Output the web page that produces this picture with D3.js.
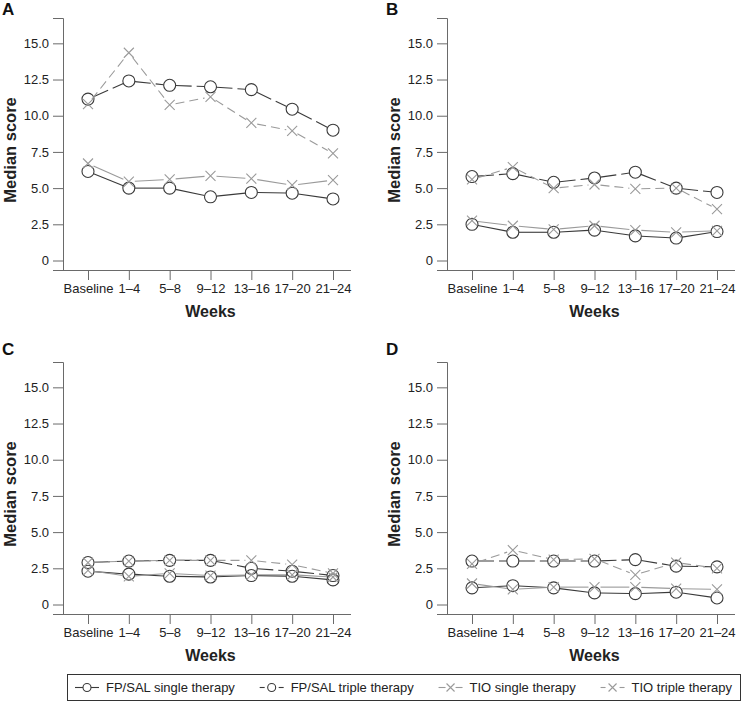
<!DOCTYPE html>
<html>
<head>
<meta charset="utf-8">
<script src="https://cdn.jsdelivr.net/npm/d3@7"></script>
<style>
  body { margin: 0; background: #fff; }
  svg { display: block; font-family: "Liberation Sans", Arial, sans-serif; }
</style>
</head>
<body>
<svg id="chart" width="745" height="702"></svg>
<script>
// ---------- DATA ----------
const weeks = ["Baseline", "1\u20134", "5\u20138", "9\u201312", "13\u201316", "17\u201320", "21\u201324"];
const yTickValues = [0, 2.5, 5, 7.5, 10, 12.5, 15];
const yTickLabels = ["0", "2.5", "5.0", "7.5", "10.0", "12.5", "15.0"];
const panelLabels = ["A", "B", "C", "D"];
const seriesNames = ["FP/SAL single therapy", "FP/SAL triple therapy", "TIO single therapy", "TIO triple therapy"];

// Panel A
const a_fpSingle  = [6.15, 5.0, 5.0, 4.4, 4.7, 4.65, 4.25];
const a_fpTriple  = [11.15, 12.4, 12.1, 12.0, 11.8, 10.45, 9.0];
const a_tioSingle = [6.7, 5.45, 5.6, 5.85, 5.65, 5.2, 5.55];
const a_tioTriple = [10.8, 14.35, 10.75, 11.3, 9.5, 8.95, 7.4];
// Panel B
const b_fpSingle  = [2.5, 1.95, 1.95, 2.1, 1.7, 1.55, 2.0];
const b_fpTriple  = [5.8, 6.0, 5.4, 5.7, 6.1, 5.0, 4.7];
const b_tioSingle = [2.75, 2.4, 2.15, 2.4, 2.1, 1.95, 2.05];
const b_tioTriple = [5.6, 6.45, 5.0, 5.25, 4.95, 5.0, 3.55];
// Panel C
const c_fpSingle  = [2.3, 2.1, 1.95, 1.9, 2.0, 1.95, 1.7];
const c_fpTriple  = [2.9, 3.0, 3.05, 3.05, 2.5, 2.3, 2.0];
const c_tioSingle = [2.35, 1.95, 2.15, 2.0, 2.05, 2.05, 1.9];
const c_tioTriple = [2.9, 3.0, 3.05, 3.05, 3.05, 2.75, 2.15];
// Panel D
const d_fpSingle  = [1.15, 1.3, 1.15, 0.8, 0.75, 0.85, 0.45];
const d_fpTriple  = [3.0, 3.0, 3.0, 3.0, 3.1, 2.65, 2.6];
const d_tioSingle = [1.45, 1.05, 1.2, 1.2, 1.2, 1.1, 1.05];
const d_tioTriple = [2.8, 3.75, 3.1, 3.15, 2.05, 2.9, 2.5];

const panelData = [
  [a_fpSingle, a_fpTriple, a_tioSingle, a_tioTriple],
  [b_fpSingle, b_fpTriple, b_tioSingle, b_tioTriple],
  [c_fpSingle, c_fpTriple, c_tioSingle, c_tioTriple],
  [d_fpSingle, d_fpTriple, d_tioSingle, d_tioTriple]
];

// ---------- STYLE ----------
const styles = [
  { color: "#3a3a3a", dash: null,   marker: "circle" },
  { color: "#3a3a3a", dash: "16,5", marker: "circle" },
  { color: "#9a9a9a", dash: null,   marker: "cross" },
  { color: "#9a9a9a", dash: "9,5",  marker: "cross" }
];
const axisColor = "#6a6a6a";
const textColor = "#222";
const R = 6;      // circle radius
const XS = 5;     // cross half size

const svg = d3.select("#chart");
const offsets = [[0, 0], [384, 0], [0, 344], [384, 344]];

function drawMarker(g, type, cx, cy, color) {
  if (type === "circle") {
    g.append("circle").attr("cx", cx).attr("cy", cy).attr("r", R)
      .attr("fill", "none").attr("stroke", color).attr("stroke-width", 1.1);
  } else {
    g.append("path")
      .attr("d", `M${cx - XS},${cy - XS}L${cx + XS},${cy + XS}M${cx - XS},${cy + XS}L${cx + XS},${cy - XS}`)
      .attr("fill", "none").attr("stroke", color).attr("stroke-width", 1.1);
  }
}

panelData.forEach((series, pi) => {
  const [ox, oy] = offsets[pi];
  const g = svg.append("g").attr("transform", `translate(${ox},${oy})`);

  const x = d3.scalePoint().domain(weeks).range([88, 333]);
  const y = d3.scaleLinear().domain([-0.656, 16.75]).range([270, 18]);

  // y axis
  const yAxis = d3.axisLeft(y).tickValues(yTickValues)
    .tickFormat((d, i) => yTickLabels[i]).tickSizeOuter(0).tickSize(10).tickPadding(4);
  const gy = g.append("g").attr("transform", "translate(63,0)").call(yAxis);
  gy.select(".domain").attr("stroke", axisColor);
  gy.selectAll(".tick line").attr("stroke", axisColor);
  gy.selectAll(".tick text").attr("fill", textColor).style("font-size", "13px")
    .style("font-family", '"Liberation Sans", Arial, sans-serif');

  // x axis
  const xAxis = d3.axisBottom(x).tickSizeOuter(0).tickSize(10).tickPadding(4);
  const gx = g.append("g").attr("transform", "translate(0,270)").call(xAxis);
  gx.select(".domain").attr("d", "M63,0.5H351").attr("stroke", axisColor);
  gx.selectAll(".tick line").attr("stroke", axisColor);
  gx.selectAll(".tick text").attr("fill", textColor).style("font-size", "13px")
    .style("font-family", '"Liberation Sans", Arial, sans-serif');

  // axis titles
  g.append("text").attr("x", (x.range()[0] + x.range()[1]) / 2).attr("y", 317)
    .attr("text-anchor", "middle").attr("font-weight", "bold").attr("font-size", 16)
    .attr("fill", textColor).text("Weeks");
  g.append("text").attr("transform", `translate(16,${(y(0) + y(15)) / 2 - 2}) rotate(-90)`)
    .attr("text-anchor", "middle").attr("font-weight", "bold").attr("font-size", 16.5)
    .attr("fill", textColor).text("Median score");

  // panel label
  g.append("text").attr("x", 2).attr("y", pi < 2 ? 15 : 11).attr("font-weight", "bold")
    .attr("font-size", 17).attr("fill", "#111").text(panelLabels[pi]);

  // series
  series.forEach((vals, si) => {
    const st = styles[si];
    const sg = g.append("g");
    const pts = vals.map((v, i) => [x(weeks[i]), y(v)]);
    for (let i = 0; i < pts.length - 1; i++) {
      const [x0, y0] = pts[i], [x1, y1] = pts[i + 1];
      const dx = x1 - x0, dy = y1 - y0, len = Math.hypot(dx, dy);
      const gap = R;
      if (len <= 2 * gap) continue;
      const ux = dx / len, uy = dy / len;
      sg.append("line")
        .attr("x1", x0 + ux * gap).attr("y1", y0 + uy * gap)
        .attr("x2", x1 - ux * gap).attr("y2", y1 - uy * gap)
        .attr("stroke", st.color).attr("stroke-width", 1.1)
        .attr("stroke-dasharray", st.dash);
    }
    pts.forEach(([px, py]) => drawMarker(sg, st.marker, px, py, st.color));
  });
});

// ---------- LEGEND ----------
const legend = svg.append("g");
const boxX0 = 67, boxX1 = 740, boxY0 = 674, boxY1 = 700;
legend.append("rect").attr("x", boxX0 + 0.5).attr("y", boxY0 + 0.5)
  .attr("width", boxX1 - boxX0).attr("height", boxY1 - boxY0)
  .attr("fill", "#fff").attr("stroke", "#333").attr("stroke-width", 1);

const symW = 24, symGap = 7, padL = 8, padR = 8;
const texts = seriesNames.map(name => {
  const t = legend.append("text").attr("font-size", 13).attr("fill", textColor).text(name);
  return t;
});
const widths = texts.map(t => t.node().getComputedTextLength());
const totalItems = widths.reduce((s, w) => s + w + symW + symGap, 0);
const between = (boxX1 - boxX0 - padL - padR - totalItems) / (seriesNames.length - 1);
let cx = boxX0 + padL;
const cy = (boxY0 + boxY1) / 2 + 0.5;
seriesNames.forEach((name, si) => {
  const st = styles[si];
  const mx = cx + symW / 2;
  if (st.dash) {
    legend.append("line").attr("x1", cx).attr("x2", cx + 5).attr("y1", cy).attr("y2", cy)
      .attr("stroke", st.color).attr("stroke-width", 1.1);
    legend.append("line").attr("x1", cx + symW - 5).attr("x2", cx + symW).attr("y1", cy).attr("y2", cy)
      .attr("stroke", st.color).attr("stroke-width", 1.1);
  } else {
    legend.append("line").attr("x1", cx).attr("x2", mx - (st.marker === "circle" ? 4 : XS)).attr("y1", cy).attr("y2", cy)
      .attr("stroke", st.color).attr("stroke-width", 1.1);
    legend.append("line").attr("x1", mx + (st.marker === "circle" ? 4 : XS)).attr("x2", cx + symW).attr("y1", cy).attr("y2", cy)
      .attr("stroke", st.color).attr("stroke-width", 1.1);
  }
  if (st.marker === "circle") {
    legend.append("circle").attr("cx", mx).attr("cy", cy).attr("r", 4)
      .attr("fill", "none").attr("stroke", st.color).attr("stroke-width", 1.1);
  } else {
    legend.append("path")
      .attr("d", `M${mx - 4},${cy - 4}L${mx + 4},${cy + 4}M${mx - 4},${cy + 4}L${mx + 4},${cy - 4}`)
      .attr("stroke", st.color).attr("stroke-width", 1.1);
  }
  texts[si].attr("x", cx + symW + symGap).attr("y", cy + 4.5);
  cx += symW + symGap + widths[si] + between;
});
</script>
</body>
</html>
